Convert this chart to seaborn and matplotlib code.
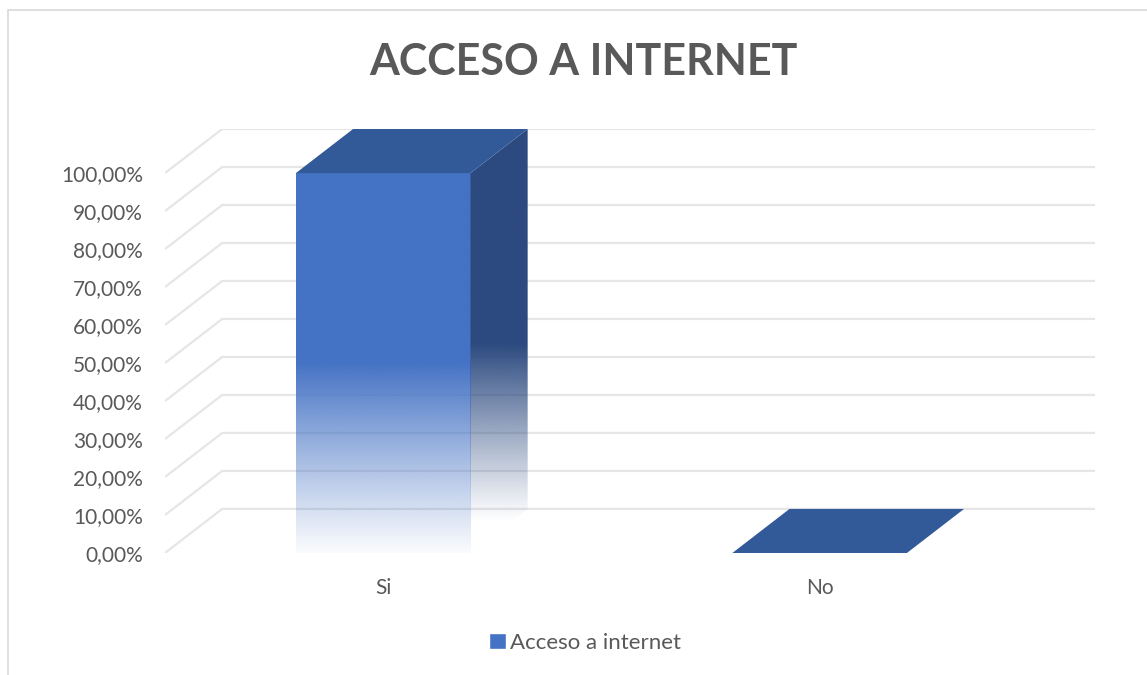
import numpy as np
import matplotlib
matplotlib.use("Agg")
import matplotlib.pyplot as plt
from matplotlib.patches import Polygon, Rectangle, Patch
from matplotlib.colors import to_rgb
from matplotlib.ticker import FuncFormatter
import seaborn as sns
import pandas as pd

# data
categories = ["Si", "No"]
values = [1.0, 0.0]
series_name = "Acceso a internet"
title = "ACCESO A INTERNET"

df = pd.DataFrame({"respuesta": categories, "valor": values})

front_col = "#4472C4"
top_col = "#335A98"
side_col = "#2C4A80"
grid_col = "#E6E6E6"
text_col = "#595959"

# fake 3d depth (x in category units, y in value units)
dx = 0.131
dy = 0.116
bar_w = 0.4

sns.set_theme(style="white")
plt.rcParams["font.family"] = ["Lato", "DejaVu Sans"]

fig = plt.figure(figsize=(11.47, 6.75), dpi=100)
ax = fig.add_axes([165 / 1147, 122 / 675, 930 / 1147, 424 / 675])

sns.barplot(data=df, x="respuesta", y="valor", color=front_col, width=bar_w,
            saturation=1, ax=ax, zorder=3)

# 3d-ish gridlines: diagonal on the left wall + line on the back wall
ticks = np.arange(0, 1.001, 0.1)
for t in ticks:
    ax.plot([-0.5, -0.5 + dx, 1.5 + dx], [t, t + dy, t + dy],
            color=grid_col, lw=1.6, zorder=1, solid_capstyle="butt")


def ramp(rgb, lo, hi, top):
    yy = np.linspace(0, top, 400)
    a = np.clip((yy - lo) / (hi - lo), 0, 1) ** 1.1
    img = np.zeros((400, 1, 4))
    img[:, 0, :3] = rgb
    img[:, 0, 3] = a
    return img


for patch, v in zip(list(ax.patches), values):
    x0 = patch.get_x()
    x1 = x0 + patch.get_width()
    # top face
    ax.add_patch(Polygon([(x0, v), (x1, v), (x1 + dx, v + dy), (x0 + dx, v + dy)],
                         closed=True, facecolor=top_col, edgecolor="none", zorder=4))
    if v <= 0:
        continue
    # front face with fade to white at the bottom
    patch.set_facecolor("none")
    patch.set_edgecolor("none")
    im = ax.imshow(ramp(to_rgb(front_col), -0.02, 0.5, v), extent=[x0, x1, 0, v],
                   origin="lower", aspect="auto", zorder=3, interpolation="bilinear")
    im.set_clip_path(patch)
    # side face
    side = Polygon([(x1, 0), (x1 + dx, dy), (x1 + dx, v + dy), (x1, v)],
                   closed=True, facecolor="none", edgecolor="none", zorder=3)
    ax.add_patch(side)
    im2 = ax.imshow(ramp(to_rgb(side_col), 0.08, 0.55, v + dy), extent=[x1, x1 + dx, 0, v + dy],
                    origin="lower", aspect="auto", zorder=3, interpolation="bilinear")
    im2.set_clip_path(side)

ax.set_xlim(-0.5, 1.5 + dx)
ax.set_ylim(0, 1 + dy)
ax.set_yticks(ticks)
ax.yaxis.set_major_formatter(FuncFormatter(lambda v, p: f"{v * 100:.2f}%".replace(".", ",")))
ax.tick_params(axis="y", length=0, pad=16, labelsize=15, labelcolor=text_col)
ax.tick_params(axis="x", length=0, pad=18, labelsize=15, labelcolor=text_col)
ax.set_xlabel("")
ax.set_ylabel("")
sns.despine(ax=ax, left=True, bottom=True)
ax.grid(False)

fig.text(583 / 1147, 1 - 62 / 675, title, ha="center", va="center",
         fontsize=31, fontweight="bold", color=text_col)

fig.legend(handles=[Patch(facecolor=front_col, label=series_name)],
           loc="center", bbox_to_anchor=(585 / 1147, 1 - 643 / 675), frameon=False,
           fontsize=16, handlelength=0.75, handleheight=0.75, handletextpad=0.2,
           labelcolor=text_col)

fig.add_artist(Rectangle((8 / 1147, -0.05), 1.1, 1.05 - 10 / 675, transform=fig.transFigure,
                         facecolor="none", edgecolor="#D9D9D9", lw=1.2))

plt.savefig("out.png", dpi=100)
plt.close()
